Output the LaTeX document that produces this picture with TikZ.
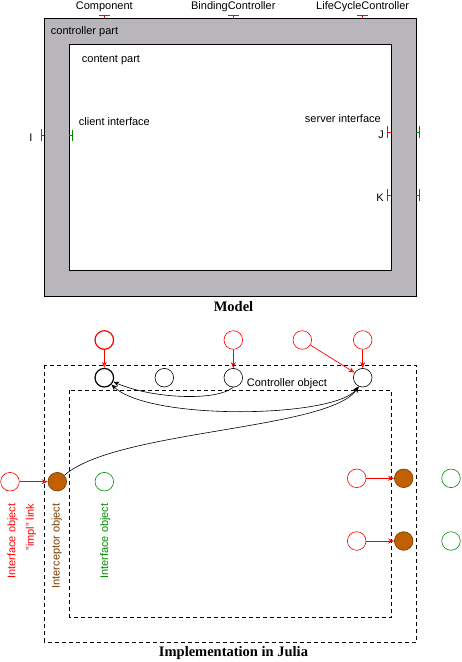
\documentclass[tikz,border=0pt]{standalone}
\usepackage{fontspec}
\setmainfont{Liberation Sans}
\newfontfamily\titlefont{Liberation Serif}
\usetikzlibrary{positioning, arrows.meta}

\definecolor{ctrlgray}{RGB}{184,182,186}
\definecolor{itfgreen}{RGB}{0,140,0}
\definecolor{icptfill}{RGB}{192,96,0}
\definecolor{icptline}{RGB}{120,60,0}

\tikzset{
	obj/.style={draw, circle, minimum size=18.6pt, inner sep=0pt, line width=0.6pt},
	ctrlobj/.style={obj, black},
	itfobj/.style={obj, red},
	outobj/.style={obj, itfgreen},
	icptobj/.style={obj, draw=icptline, fill=icptfill},
	impl/.style={red, line width=0.7pt, -{Stealth[length=6pt, width=5pt, open]}},
	ctrllink/.style={black, line width=0.6pt, -{Stealth[length=6pt, width=5pt]}},
	tick/.style={line width=0.7pt},
	frame/.style={dashed, dash pattern=on 4pt off 3pt, line width=0.7pt},
	vlabel/.style={rotate=90, anchor=base east, inner sep=0pt}
}

\begin{document}
\begin{tikzpicture}[x=1pt, y=1pt, font=\fontsize{11}{13}\selectfont]
	\useasboundingbox (0,0) rectangle (461,-662);
	
	% Model
	\draw[fill=ctrlgray, line width=0.8pt] (44.3,-18.3) rectangle (416.3,-296.3);
	\draw[fill=white, line width=0.8pt] (69.3,-44.3) rectangle (391.3,-270.3);
	
	\node[anchor=base west, inner sep=0pt] (ctrlpart) at (50.7,-34.7) {controller part};
	\node[anchor=base west, inner sep=0pt] (contpart) at (81.7,-62.7) {content part};
	
	% control interfaces
	\foreach \x/\name in {104.3/Component, 233.3/BindingController, 362.7/LifeCycleController}{
		\draw[tick, red] (\x-5.5,-15) -- (\x+5.5,-15) (\x,-15) -- (\x,-18.3);
		\node[anchor=base, inner sep=0pt] (\name) at (\x,-9) {\name};
	}
	
	% client interface I
	\draw[tick, red] (41.3,-129) -- (41.3,-141) (41.3,-135) -- (44.3,-135);
	\draw[tick, itfgreen] (72.7,-130) -- (72.7,-141) (72.7,-135.5) -- (69.3,-135.5);
	\node[anchor=base, inner sep=0pt] (I) at (31,-141.3) {I};
	\node[anchor=base west, inner sep=0pt] (client) at (78.7,-125.7) {client interface};
	
	% server interfaces J and K
	\foreach \y/\name in {-132/J, -195.3/K}{
		\draw[tick, red] (387.7,\y-6) -- (387.7,\y+6) (387.7,\y) -- (391.3,\y);
		\draw[tick, itfgreen] (419,\y-6) -- (419,\y+6) (419,\y) -- (416.3,\y);
		\node[anchor=base east, inner sep=0pt] (\name) at (384,\y-6) {\name};
	}
	\node[anchor=base east, inner sep=0pt] (server) at (381,-122.3) {server interface};
	
	\node[anchor=base, inner sep=0pt] (model) at (233.5,-311.7) {\titlefont\fontsize{14.5}{16}\selectfont\bfseries Model};
	
	% Implementation
	\draw[frame] (44.3,-365.3) rectangle (416.3,-642);
	\draw[frame] (69.3,-390.3) rectangle (391.3,-617);
	
	\node[ctrlobj, line width=1.2pt] (c1) at (104.3,-377.7) {};
	\node[ctrlobj] (c2) at (164.3,-377.7) {};
	\node[ctrlobj] (c3) at (233.3,-377.7) {};
	\node[ctrlobj] (c4) at (362.7,-377.7) {};
	\node[anchor=base west, inner sep=0pt] (ctrlobjlabel) at (246.7,-386) {Controller object};
	
	\node[itfobj, line width=1.2pt] (r1) at (104.3,-340) {};
	\node[itfobj] (r3) at (233.3,-340) {};
	\node[itfobj] (r4) at (302.3,-340) {};
	\node[itfobj] (r5) at (362.7,-340) {};
	
	\draw[impl] (r1) -- (c1);
	\draw[impl] (r3) -- (c3);
	\draw[impl] (r4) -- (c4);
	\draw[impl] (r5) -- (c4);
	
	% client side
	\node[itfobj] (ci) at (10,-481.7) {};
	\node[icptobj] (cb) at (57.3,-481.7) {};
	\node[outobj] (cg) at (104.3,-481.7) {};
	\draw[impl] (ci) -- (cb);
	
	% server side
	\node[itfobj] (si1) at (356.7,-478.3) {};
	\node[icptobj] (sb1) at (403.7,-478.3) {};
	\node[outobj] (sg1) at (451,-478.3) {};
	\node[itfobj] (si2) at (356.7,-541) {};
	\node[icptobj] (sb2) at (403.7,-541) {};
	\node[outobj] (sg2) at (451,-541) {};
	\draw[impl] (si1) -- (sb1);
	\draw[impl] (si2) -- (sb2);
	
	% controller links
	\draw[ctrllink] (c3.south) .. controls (215,-402) and (150,-398) .. (c1);
	\draw[ctrllink, {Stealth[length=6pt, width=5pt]}-{Stealth[length=6pt, width=5pt]}] (c1) .. controls (150,-421) and (335,-418) .. (c4.-115);
	\draw[ctrllink] (cb) .. controls (115,-430) and (330,-430) .. (c4.-115);
	
	\node[vlabel, red] (itflabel) at (15.5,-503.3) {Interface object};
	\node[vlabel, red] (impllabel) at (34,-503.3) {"impl" link};
	\node[vlabel, icptline] (icptlabel) at (59.5,-503.3) {Interceptor object};
	\node[vlabel, itfgreen] (outlabel) at (108,-503.3) {Interface object};
	
	\node[anchor=base, inner sep=0pt] (julia) at (233.5,-656.7) {\titlefont\fontsize{14.5}{16}\selectfont\bfseries Implementation in Julia};
	
\end{tikzpicture}
\end{document}
